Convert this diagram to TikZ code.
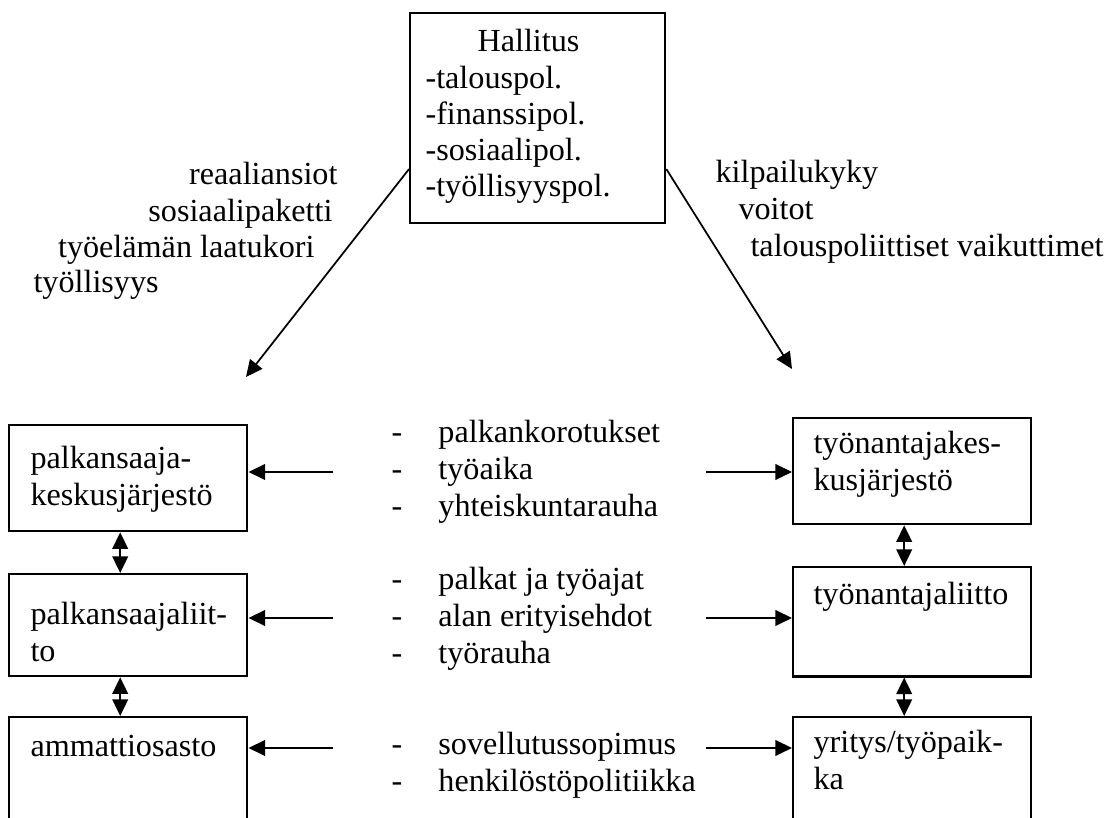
\documentclass[tikz,border=0pt]{standalone}
\usepackage{fontspec}
\setmainfont{Liberation Serif}
\usetikzlibrary{arrows.meta,calc}

\newcommand\viiva{\makebox[17.5pt][l]{-}}
\newcommand\rivit[1]{\vtop{\halign{##\hfil\cr#1\crcr}}}

\begin{document}
\begin{tikzpicture}[
    x=0.373pt, y=-0.373pt,
    font=\fontsize{12pt}{13.8pt}\selectfont,
    box/.style={rectangle, draw, line width=0.9pt, inner sep=0pt, anchor=north west, minimum width=88.8pt},
    txt/.style={anchor=base west, inner sep=0pt},
    arr/.style={line width=0.8pt, -{Triangle[length=6.2pt, width=5.8pt]}},
    dbl/.style={line width=0.8pt, {Triangle[length=6.2pt, width=5.8pt]}-{Triangle[length=6.2pt, width=5.8pt]}},
    diag/.style={line width=0.65pt, -{Triangle[length=6.2pt, width=5.8pt]}}
]
\useasboundingbox (0,0) rectangle (1106,818);

% hallitus
\node[box, minimum width=95.1pt, minimum height=78.3pt] (hallitus) at (409,12) {};
\node[txt, font=\fontsize{12pt}{13.5pt}\selectfont] (hallitusteksti) at (425,52)
    {\rivit{\hspace*{19.4pt}Hallitus\cr -talouspol.\cr -finanssipol.\cr -sosiaalipol.\cr -työllisyyspol.}};

\node[txt, anchor=base east] (reaali) at (338,185) {reaaliansiot};
\node[txt, anchor=base east] (sosiaali) at (333,222) {sosiaalipaketti};
\node[txt, anchor=base east] (laatu) at (315,258) {työelämän laatukori};
\node[txt] (tyollisyys) at (33,293) {työllisyys};

\node[txt] (kilpailu) at (715,183) {kilpailukyky};
\node[txt] (voitot) at (738,220) {voitot};
\node[txt] (vaikuttimet) at (750,257) {talouspoliittiset vaikuttimet};

% palkansaajat
\node[box, minimum height=39.5pt] (pk) at (8,424) {};
\node[box, minimum height=38pt] (pl) at (8,573) {};
\node[box, minimum height=40pt] (ao) at (8,716) {};
\node[txt] (pkteksti) at (30,469) {\rivit{palkansaaja-\cr keskusjärjestö}};
\node[txt] (plteksti) at (30,625) {\rivit{palkansaajaliit-\cr to}};
\node[txt] (aoteksti) at (30,757) {ammattiosasto};

% tyonantajat
\node[box, minimum height=39.5pt] (tk) at (792,417) {};
\node[box, minimum height=40.7pt] (tl) at (792,566) {};
\node[box, minimum height=40pt] (yt) at (792,716) {};
\node[txt] (tkteksti) at (813,454) {\rivit{työnantajakes-\cr kusjärjestö}};
\node[txt] (tlteksti) at (813,605) {työnantajaliitto};
\node[txt] (ytteksti) at (813,753) {\rivit{yritys/työpaik-\cr ka}};

% sopimukset
\node[txt] (sopimus1) at (391,443) {\rivit{\viiva palkankorotukset\cr \viiva työaika\cr \viiva yhteiskuntarauha}};
\node[txt] (sopimus2) at (391,590) {\rivit{\viiva palkat ja työajat\cr \viiva alan erityisehdot\cr \viiva työrauha}};
\node[txt] (sopimus3) at (391,755) {\rivit{\viiva sovellutussopimus\cr \viiva henkilöstöpolitiikka}};

\coordinate (vk) at (246,377);
\coordinate (ok) at (792,369);
\draw[diag] ($(hallitus.south west)!0.26!(hallitus.north west)$) -- (vk);
\draw[diag] ($(hallitus.south east)!0.26!(hallitus.north east)$) -- (ok);

\coordinate (v1) at (333,472);
\coordinate (v2) at (333,618);
\coordinate (v3) at (333,748);
\coordinate (o1) at (706,472);
\coordinate (o2) at (706,618);
\coordinate (o3) at (706,748);
\draw[arr] (v1) -- (v1 -| pk.east);
\draw[arr] (v2) -- (v2 -| pl.east);
\draw[arr] (v3) -- (v3 -| ao.east);
\draw[arr] (o1) -- (o1 -| tk.west);
\draw[arr] (o2) -- (o2 -| tl.west);
\draw[arr] (o3) -- (o3 -| yt.west);

\draw[dbl] ([xshift=-3pt]pk.south) -- ([xshift=-3pt]pl.north);
\draw[dbl] ([xshift=-3pt]pl.south) -- ([xshift=-3pt]ao.north);
\draw[dbl] ([xshift=-3pt]tk.south) -- ([xshift=-3pt]tl.north);
\draw[dbl] ([xshift=-3pt]tl.south) -- ([xshift=-3pt]yt.north);
\end{tikzpicture}
\end{document}
